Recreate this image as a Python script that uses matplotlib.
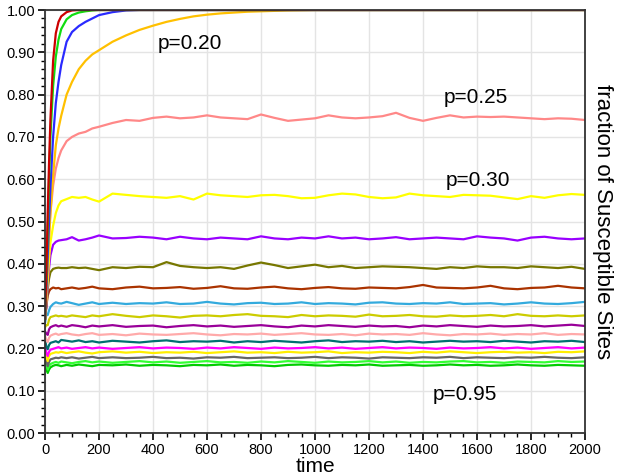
import matplotlib
matplotlib.use("Agg")
import matplotlib.pyplot as plt
from matplotlib.ticker import MultipleLocator, FormatStrFormatter

plt.rcParams['font.family'] = ['Liberation Sans', 'DejaVu Sans']

# ---- data -------------------------------------------------------------
# saturating curves (own time points)
t_p05 = [0, 5, 10, 15, 20, 30, 40, 50, 60, 80, 100, 125, 2000]
v_p05 = [0.27, 0.38, 0.52, 0.64, 0.74, 0.88, 0.945, 0.972, 0.985, 0.995, 0.999, 1.0, 1.0]

t_p10 = [0, 5, 10, 15, 20, 30, 40, 50, 60, 80, 100, 125, 150, 175, 200, 2000]
v_p10 = [0.27, 0.37, 0.48, 0.60, 0.70, 0.82, 0.89, 0.93, 0.955, 0.978, 0.988, 0.994, 0.997, 0.999, 1.0, 1.0]

t_p15 = [0, 5, 10, 15, 20, 30, 40, 50, 60, 80, 100, 125, 150, 175, 200, 250, 300, 350, 2000]
v_p15 = [0.27, 0.34, 0.42, 0.50, 0.58, 0.70, 0.78, 0.83, 0.87, 0.925, 0.948, 0.962, 0.972, 0.980,
         0.988, 0.995, 0.999, 1.0, 1.0]

t_p20 = [0, 5, 10, 15, 20, 30, 40, 50, 60, 80, 100, 125, 150, 175, 200, 250, 300, 350, 400, 450,
         500, 550, 600, 650, 700, 750, 800, 900, 1000, 2000]
v_p20 = [0.27, 0.33, 0.40, 0.46, 0.52, 0.61, 0.68, 0.72, 0.75, 0.80, 0.83, 0.86, 0.88, 0.895, 0.905,
         0.925, 0.94, 0.953, 0.963, 0.972, 0.979, 0.985, 0.989, 0.992, 0.994, 0.996, 0.997, 0.999,
         1.0, 1.0]

# common time grid for the plateau curves
t_grid = [0, 5, 10, 15, 20, 30, 40, 50, 60, 80, 100, 125, 150, 175, 200,
          250, 300, 350, 400, 450, 500, 550, 600, 650, 700, 750, 800, 850, 900, 950,
          1000, 1050, 1100, 1150, 1200, 1250, 1300, 1350, 1400, 1450, 1500, 1550, 1600,
          1650, 1700, 1750, 1800, 1850, 1900, 1950, 2000]

v_p25 = [0.27, 0.33, 0.40, 0.47, 0.52, 0.585, 0.625, 0.65, 0.668, 0.69, 0.70, 0.708, 0.712, 0.72, 0.724,
         0.733, 0.74, 0.738, 0.745, 0.748, 0.744, 0.746, 0.751, 0.746, 0.744, 0.742, 0.753, 0.745,
         0.738, 0.741, 0.744, 0.751, 0.746, 0.744, 0.746, 0.749, 0.757, 0.745, 0.738, 0.745, 0.751,
         0.746, 0.748, 0.747, 0.748, 0.746, 0.744, 0.742, 0.744, 0.743, 0.740]
v_p30 = [0.27, 0.31, 0.36, 0.41, 0.45, 0.49, 0.52, 0.538, 0.548, 0.553, 0.558, 0.556, 0.558, 0.552, 0.547,
         0.566, 0.563, 0.560, 0.558, 0.556, 0.560, 0.552, 0.566, 0.562, 0.560, 0.558, 0.562, 0.563,
         0.560, 0.555, 0.556, 0.562, 0.566, 0.564, 0.558, 0.555, 0.557, 0.566, 0.562, 0.560, 0.558,
         0.563, 0.562, 0.561, 0.557, 0.553, 0.560, 0.556, 0.562, 0.565, 0.563]
v_p35 = [0.27, 0.30, 0.35, 0.39, 0.42, 0.445, 0.452, 0.455, 0.456, 0.458, 0.463, 0.455, 0.458, 0.462, 0.467,
         0.460, 0.461, 0.464, 0.462, 0.458, 0.464, 0.460, 0.458, 0.462, 0.460, 0.458, 0.465, 0.460,
         0.458, 0.462, 0.460, 0.465, 0.460, 0.462, 0.458, 0.460, 0.463, 0.458, 0.460, 0.462, 0.460,
         0.458, 0.465, 0.462, 0.460, 0.455, 0.462, 0.464, 0.460, 0.458, 0.460]
v_p40 = [0.27, 0.30, 0.34, 0.365, 0.38, 0.388, 0.390, 0.391, 0.390, 0.390, 0.392, 0.390, 0.391, 0.388, 0.385,
         0.392, 0.390, 0.393, 0.392, 0.404, 0.395, 0.392, 0.390, 0.392, 0.388, 0.396, 0.403, 0.397,
         0.390, 0.394, 0.398, 0.392, 0.395, 0.390, 0.392, 0.394, 0.393, 0.392, 0.390, 0.388, 0.392,
         0.390, 0.394, 0.392, 0.392, 0.390, 0.394, 0.392, 0.390, 0.393, 0.388]
v_p45 = [0.27, 0.30, 0.325, 0.335, 0.340, 0.344, 0.342, 0.343, 0.340, 0.342, 0.344, 0.341, 0.343, 0.346, 0.342,
         0.340, 0.344, 0.346, 0.342, 0.343, 0.345, 0.341, 0.343, 0.347, 0.342, 0.341, 0.344, 0.346,
         0.342, 0.340, 0.343, 0.345, 0.342, 0.341, 0.344, 0.343, 0.342, 0.345, 0.350, 0.344, 0.343,
         0.342, 0.344, 0.348, 0.342, 0.340, 0.343, 0.344, 0.348, 0.344, 0.342]
v_p50 = [0.26, 0.28, 0.279, 0.29, 0.298, 0.305, 0.309, 0.307, 0.306, 0.310, 0.307, 0.303, 0.306, 0.309, 0.305,
         0.308, 0.305, 0.307, 0.306, 0.309, 0.305, 0.306, 0.310, 0.306, 0.304, 0.307, 0.308, 0.305,
         0.306, 0.309, 0.305, 0.307, 0.306, 0.304, 0.308, 0.309, 0.306, 0.305, 0.307, 0.306, 0.309,
         0.305, 0.306, 0.307, 0.304, 0.306, 0.309, 0.306, 0.305, 0.307, 0.310]
v_p55 = [0.25, 0.255, 0.255, 0.268, 0.274, 0.276, 0.278, 0.276, 0.277, 0.275, 0.278, 0.276, 0.274, 0.278, 0.276,
         0.281, 0.277, 0.274, 0.278, 0.276, 0.273, 0.277, 0.278, 0.276, 0.279, 0.281, 0.277, 0.276,
         0.274, 0.279, 0.276, 0.278, 0.277, 0.275, 0.280, 0.276, 0.277, 0.279, 0.276, 0.275, 0.278,
         0.276, 0.277, 0.279, 0.276, 0.281, 0.277, 0.276, 0.278, 0.276, 0.278]
v_p60 = [0.24, 0.235, 0.232, 0.245, 0.25, 0.253, 0.255, 0.252, 0.254, 0.251, 0.255, 0.253, 0.250, 0.254, 0.252,
         0.255, 0.251, 0.253, 0.254, 0.250, 0.253, 0.255, 0.252, 0.254, 0.251, 0.253, 0.255, 0.252,
         0.250, 0.254, 0.252, 0.255, 0.253, 0.251, 0.254, 0.252, 0.253, 0.250, 0.254, 0.252, 0.255,
         0.253, 0.251, 0.254, 0.252, 0.253, 0.255, 0.252, 0.254, 0.256, 0.253]
v_p65 = [0.23, 0.22, 0.215, 0.225, 0.23, 0.233, 0.235, 0.232, 0.234, 0.236, 0.233, 0.231, 0.234, 0.236, 0.232,
         0.234, 0.231, 0.235, 0.233, 0.232, 0.234, 0.236, 0.233, 0.231, 0.234, 0.233, 0.235, 0.232,
         0.234, 0.236, 0.233, 0.232, 0.234, 0.231, 0.235, 0.233, 0.234, 0.232, 0.236, 0.233, 0.231,
         0.234, 0.233, 0.235, 0.232, 0.234, 0.233, 0.236, 0.232, 0.234, 0.233]
v_p70 = [0.22, 0.205, 0.198, 0.208, 0.213, 0.215, 0.217, 0.214, 0.220, 0.218, 0.216, 0.219, 0.215, 0.217, 0.214,
         0.218, 0.216, 0.214, 0.217, 0.219, 0.215, 0.217, 0.216, 0.218, 0.214, 0.217, 0.215, 0.218,
         0.216, 0.214, 0.217, 0.219, 0.215, 0.217, 0.216, 0.218, 0.215, 0.217, 0.214, 0.216, 0.218,
         0.216, 0.217, 0.215, 0.218, 0.216, 0.214, 0.217, 0.216, 0.218, 0.215]
v_p75 = [0.21, 0.19, 0.182, 0.192, 0.197, 0.199, 0.201, 0.203, 0.200, 0.202, 0.199, 0.201, 0.203, 0.200, 0.202,
         0.199, 0.201, 0.203, 0.200, 0.202, 0.201, 0.199, 0.202, 0.200, 0.203, 0.201, 0.199, 0.202,
         0.200, 0.201, 0.203, 0.200, 0.202, 0.199, 0.201, 0.203, 0.200, 0.202, 0.201, 0.199, 0.202,
         0.200, 0.201, 0.203, 0.200, 0.202, 0.199, 0.201, 0.203, 0.200, 0.202]
v_p80 = [0.20, 0.18, 0.170, 0.182, 0.187, 0.189, 0.191, 0.190, 0.192, 0.189, 0.191, 0.193, 0.190, 0.188, 0.191,
         0.193, 0.190, 0.192, 0.189, 0.191, 0.190, 0.192, 0.189, 0.191, 0.193, 0.190, 0.191, 0.189,
         0.192, 0.190, 0.191, 0.193, 0.189, 0.191, 0.190, 0.192, 0.191, 0.189, 0.192, 0.190, 0.193,
         0.191, 0.189, 0.191, 0.192, 0.190, 0.191, 0.189, 0.192, 0.191, 0.193]
v_p85 = [0.19, 0.17, 0.158, 0.168, 0.174, 0.176, 0.178, 0.177, 0.179, 0.177, 0.179, 0.176, 0.178, 0.180, 0.177,
         0.179, 0.177, 0.178, 0.180, 0.177, 0.178, 0.176, 0.179, 0.178, 0.180, 0.177, 0.178, 0.179,
         0.177, 0.178, 0.180, 0.177, 0.179, 0.178, 0.176, 0.179, 0.178, 0.177, 0.179, 0.178, 0.180,
         0.177, 0.179, 0.178, 0.177, 0.179, 0.178, 0.180, 0.178, 0.177, 0.179]
v_p90 = [0.18, 0.16, 0.150, 0.158, 0.163, 0.166, 0.168, 0.166, 0.169, 0.167, 0.165, 0.168, 0.170, 0.167, 0.169,
         0.166, 0.168, 0.170, 0.167, 0.169, 0.166, 0.168, 0.170, 0.167, 0.168, 0.166, 0.169, 0.167,
         0.170, 0.168, 0.166, 0.169, 0.167, 0.168, 0.170, 0.167, 0.169, 0.166, 0.168, 0.167, 0.169,
         0.170, 0.167, 0.168, 0.166, 0.169, 0.168, 0.167, 0.170, 0.168, 0.169]
v_p95 = [0.17, 0.15, 0.142, 0.150, 0.155, 0.159, 0.161, 0.160, 0.158, 0.161, 0.159, 0.162, 0.160, 0.158, 0.161,
         0.160, 0.162, 0.159, 0.161, 0.160, 0.158, 0.161, 0.160, 0.162, 0.159, 0.161, 0.160, 0.158,
         0.161, 0.162, 0.160, 0.159, 0.161, 0.160, 0.162, 0.159, 0.160, 0.161, 0.159, 0.160, 0.162,
         0.160, 0.161, 0.159, 0.160, 0.162, 0.160, 0.159, 0.161, 0.160, 0.159]

series = [
    (t_p05, v_p05, '#cc0000'),
    (t_p10, v_p10, '#11dd11'),
    (t_p15, v_p15, '#2a2aff'),
    (t_p20, v_p20, '#ffc000'),
    (t_grid, v_p25, '#ff8888'),
    (t_grid, v_p30, '#ffff00'),
    (t_grid, v_p35, '#9900ff'),
    (t_grid, v_p40, '#777700'),
    (t_grid, v_p45, '#aa3300'),
    (t_grid, v_p50, '#33aadd'),
    (t_grid, v_p55, '#cccc00'),
    (t_grid, v_p60, '#990099'),
    (t_grid, v_p65, '#ffaaaa'),
    (t_grid, v_p70, '#007070'),
    (t_grid, v_p75, '#ff00ff'),
    (t_grid, v_p80, '#ffee00'),
    (t_grid, v_p85, '#666666'),
    (t_grid, v_p90, '#33ff33'),
    (t_grid, v_p95, '#00cc00'),
]

labels = ['p=0.20', 'p=0.25', 'p=0.30', 'p=0.95']
label_t = [537, 1596, 1604, 1556]
label_v = [0.922, 0.794, 0.596, 0.09]

# ---- plot -------------------------------------------------------------
fig = plt.figure(figsize=(6.26, 4.75), dpi=100)
ax = fig.add_axes([0.0719, 0.0884, 0.8626, 0.8905])

for t, v, c in reversed(series):
    ax.plot(t, v, color=c, lw=1.6)

for s, x, y in zip(labels, label_t, label_v):
    ax.text(x, y, s, fontsize=15, ha='center', va='center')

ax.set_xlim(0, 2000)
ax.set_ylim(0, 1.0)
ax.xaxis.set_major_locator(MultipleLocator(200))
ax.xaxis.set_minor_locator(MultipleLocator(50))
ax.yaxis.set_major_locator(MultipleLocator(0.1))
ax.yaxis.set_minor_locator(MultipleLocator(0.02))
ax.yaxis.set_major_formatter(FormatStrFormatter('%.2f'))
ax.grid(True, which='major', color='#e4e4e4', lw=1)
ax.set_axisbelow(True)
ax.tick_params(which='major', direction='out', length=5, width=1.2, labelsize=10.5, pad=2)
ax.tick_params(which='minor', direction='out', length=3, width=1.0)
for sp in ax.spines.values():
    sp.set_color('#333333')
    sp.set_linewidth(1.3)

ax.set_xlabel('time', fontsize=15, labelpad=0)
ax.yaxis.set_label_position('right')
ax.set_ylabel('fraction of Susceptible Sites', fontsize=16, rotation=-90, labelpad=20)

fig.savefig('out.png', dpi=100)
